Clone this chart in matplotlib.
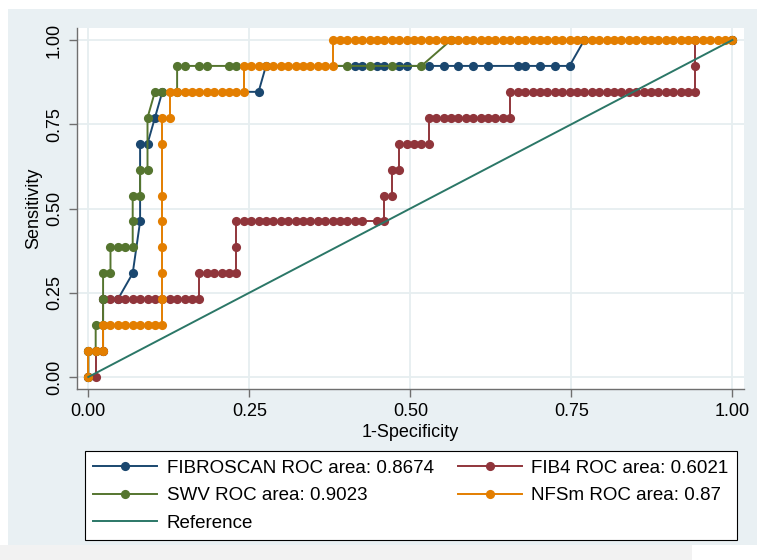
import matplotlib
matplotlib.use('Agg')
import matplotlib.pyplot as plt
from matplotlib.lines import Line2D
from matplotlib.patches import Rectangle

# ---------------------------------------------------------------------------
# Data: ROC points as (false-positive count, true-positive count)
# 87 controls, 13 cases
# ---------------------------------------------------------------------------

N_NEG = 87
N_POS = 13

fibroscan_fp = [0, 0, 2, 2, 4, 6, 7, 7, 8, 9, 10, 23, 24, 36, 37, 39, 40, 42, 43,
                46, 48, 50, 52, 54, 58, 59, 61, 63, 65, 67, 87]
fibroscan_tp = [0, 1, 1, 3, 3, 4, 6, 9, 9, 10, 11, 11, 12, 12, 12, 12, 12, 12, 12,
                12, 12, 12, 12, 12, 12, 12, 12, 12, 12, 13, 13]

fib4_fp = [0, 1, 1, 2, 2,
           3, 4, 5, 6, 7, 8, 9, 10, 11, 12, 13, 14, 15,
           15, 16, 17, 18, 19, 20,
           20,
           20, 21, 22, 23, 24, 25, 26, 27, 28, 29, 30, 31, 32, 33, 34, 35, 36, 37, 39, 40,
           40, 41,
           41, 42,
           42, 43, 44, 45, 46,
           46, 47, 48, 49, 50, 51, 52, 53, 54, 55, 56, 57,
           57, 58, 59, 60, 61, 62, 63, 64, 65, 66, 67, 68, 69, 70, 71, 72, 73, 74, 75,
           76, 77, 78, 79, 80, 81, 82,
           82, 82, 87]
fib4_tp = [0, 0, 1, 1, 3,
           3, 3, 3, 3, 3, 3, 3, 3, 3, 3, 3, 3, 3,
           4, 4, 4, 4, 4, 4,
           5,
           6, 6, 6, 6, 6, 6, 6, 6, 6, 6, 6, 6, 6, 6, 6, 6, 6, 6, 6, 6,
           7, 7,
           8, 8,
           9, 9, 9, 9, 9,
           10, 10, 10, 10, 10, 10, 10, 10, 10, 10, 10, 10,
           11, 11, 11, 11, 11, 11, 11, 11, 11, 11, 11, 11, 11, 11, 11, 11, 11, 11, 11,
           11, 11, 11, 11, 11, 11, 11,
           12, 13, 13]

swv_fp = [0, 0, 1, 1, 2, 2, 2, 3, 3, 4, 5, 6, 6, 6, 7, 7, 8, 8, 9, 10, 12, 12, 13,
          15, 16, 19, 20, 35, 38, 41, 45, 49, 87]
swv_tp = [0, 1, 1, 2, 2, 3, 4, 4, 5, 5, 5, 5, 6, 7, 7, 8, 8, 10, 11, 11, 11, 12, 12,
          12, 12, 12, 12, 12, 12, 12, 12, 13, 13]

nfsm_fp = [0, 0, 1, 2,
           2, 3, 4, 5, 6, 7, 8, 9, 10,
           10, 10, 10, 10, 10, 10, 10,
           11,
           11, 12, 13, 14, 15, 16, 17, 18, 19, 20, 21,
           21, 22, 23, 24, 25, 26, 27, 28, 29, 30, 31, 32, 33,
           33, 34, 35, 36, 37, 38, 39, 40, 41, 42, 43, 44, 45, 46, 47, 48, 49, 50, 51,
           52, 53, 54, 55, 56, 57, 58, 59, 60, 61, 62, 63, 64, 65, 66, 67, 68, 69, 70,
           71, 72, 73, 74, 75, 76, 77, 78, 79, 80, 81, 82, 83, 84, 85, 86, 87]
nfsm_tp = [0, 1, 1, 1,
           2, 2, 2, 2, 2, 2, 2, 2, 2,
           3, 4, 5, 6, 7, 9, 10,
           10,
           11, 11, 11, 11, 11, 11, 11, 11, 11, 11, 11,
           12, 12, 12, 12, 12, 12, 12, 12, 12, 12, 12, 12, 12,
           13, 13, 13, 13, 13, 13, 13, 13, 13, 13, 13, 13, 13, 13, 13, 13, 13, 13, 13,
           13, 13, 13, 13, 13, 13, 13, 13, 13, 13, 13, 13, 13, 13, 13, 13, 13, 13, 13,
           13, 13, 13, 13, 13, 13, 13, 13, 13, 13, 13, 13, 13, 13, 13, 13, 13]

labels = ['FIBROSCAN ROC area: 0.8674', 'FIB4 ROC area: 0.6021',
          'SWV ROC area: 0.9023', 'NFSm ROC area: 0.87', 'Reference']
ticks = [0.0, 0.25, 0.5, 0.75, 1.0]
tick_labels = ['0.00', '0.25', '0.50', '0.75', '1.00']

# ---------------------------------------------------------------------------
# Style
# ---------------------------------------------------------------------------

NAVY = '#1a476f'
MAROON = '#90353b'
FOREST = '#55752f'
DKORANGE = '#e37e00'
TEAL = '#2b7767'
BG = '#e9f0f3'
GRID = '#e6eef0'
LW = 1.4
MS = 6.6

plt.rcParams['font.family'] = ['Liberation Sans', 'DejaVu Sans']

W, H = 757, 560
fig = plt.figure(figsize=(W / 100, H / 100), dpi=100)
fig.patch.set_facecolor('white')

# graph region and the lighter strip at the bottom
fig.patches.append(Rectangle((8 / W, 15 / H), 1 - 8 / W, 1 - 15 / H - 9 / H,
                             transform=fig.transFigure, facecolor=BG,
                             edgecolor='none', zorder=-10))
fig.patches.append(Rectangle((0, 0), 692 / W, 15 / H, transform=fig.transFigure,
                             facecolor='#f2f2f2', edgecolor='none', zorder=-10))

ax = fig.add_axes([77 / W, (H - 389) / H, (744 - 77) / W, (389 - 28) / H])
ax.set_facecolor('white')

series = [
    (fibroscan_fp, fibroscan_tp, NAVY),
    (fib4_fp, fib4_tp, MAROON),
    (swv_fp, swv_tp, FOREST),
    (nfsm_fp, nfsm_tp, DKORANGE),
]
for fp, tp, color in series:
    x = [v / N_NEG for v in fp]
    y = [v / N_POS for v in tp]
    ax.plot(x, y, color=color, linewidth=LW, marker='o', markersize=MS,
            markeredgewidth=0, zorder=3)

ax.plot([0, 1], [0, 1], color=TEAL, linewidth=LW, zorder=4)

ax.set_xlim(-0.0175, 1.018)
ax.set_ylim(-0.0356, 1.0356)
ax.set_xticks(ticks)
ax.set_xticklabels(tick_labels, fontsize=13)
ax.set_yticks(ticks)
ax.set_yticklabels(tick_labels, fontsize=13, rotation=90, va='center')
ax.grid(True, color=GRID, linewidth=1.3, zorder=0)
ax.set_axisbelow(True)
for side in ['top', 'right']:
    ax.spines[side].set_visible(False)
for side in ['left', 'bottom']:
    ax.spines[side].set_color('#6f6f6f')
    ax.spines[side].set_linewidth(1.0)
ax.tick_params(length=6, width=1.0, color='#6f6f6f', pad=4)
ax.set_xlabel('1-Specificity', fontsize=13, labelpad=3)
ax.set_ylabel('Sensitivity', fontsize=13, labelpad=3)

handle_colors = [NAVY, MAROON, FOREST, DKORANGE]
handles = [Line2D([], [], color=c, linewidth=LW, marker='o', markersize=MS,
                  markeredgewidth=0) for c in handle_colors]
handles.append(Line2D([], [], color=TEAL, linewidth=LW))
# column-major order so rows read FIBROSCAN|FIB4, SWV|NFSm, Reference
order = [0, 2, 4, 1, 3]
leg = fig.legend([handles[i] for i in order], [labels[i] for i in order],
                 ncol=2, loc='lower left',
                 bbox_to_anchor=(85 / W, (H - 540) / H, (737 - 85) / W, 87 / H),
                 mode='expand', fontsize=13.5, handlelength=3.4, handletextpad=0.5,
                 columnspacing=0.8, labelspacing=0.55, borderaxespad=0,
                 fancybox=False, framealpha=1, borderpad=0.45, markerscale=1)
leg.get_frame().set_edgecolor('black')
leg.get_frame().set_linewidth(0.8)

fig.savefig('out.png', dpi=100, facecolor=fig.get_facecolor())
